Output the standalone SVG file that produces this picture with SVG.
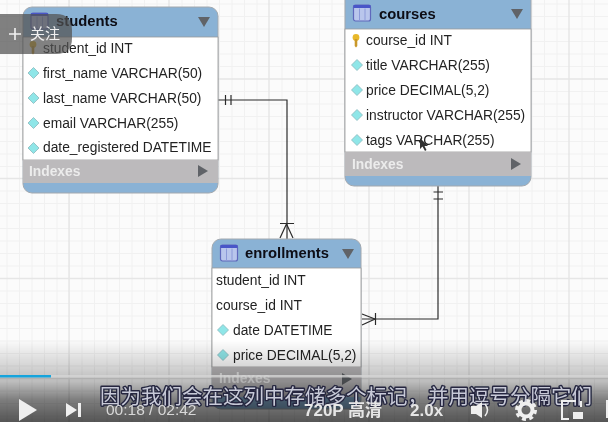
<svg xmlns="http://www.w3.org/2000/svg" width="608" height="422" viewBox="0 0 608 422">
<style>
.minor{stroke:#f1f1f1;stroke-width:1;fill:none}
.major{stroke:#e6e6e6;stroke-width:1.4;fill:none}
.card{fill:#8ab2d5;stroke:#a2a8ae;stroke-width:1}
.body{fill:#fff;stroke:#9a9a9a;stroke-width:.8}
.idx{fill:#bcbabc}
.title{font:bold 14.8px "Liberation Sans",Arial,sans-serif;fill:#0c0c14}
.row{font:13.8px "Liberation Sans",Arial,sans-serif;fill:#242424}
.ixt{font:bold 13.8px "Liberation Sans",Arial,sans-serif;fill:#ececec}
.tri{fill:#606468}
.con{stroke:#2c2c2c;stroke-width:1.2;fill:none}
.sub{font:20.5px "Noto Sans CJK SC",sans-serif;fill:#c8cad8;stroke:#262840;stroke-width:2.8;paint-order:stroke;stroke-linejoin:round}
.ctl{font:bold 17px "Liberation Sans",Arial,sans-serif;fill:#e6e6e6}
.ctlc{font:bold 17px "Liberation Sans","Noto Sans CJK SC",sans-serif;fill:#e6e6e6}
.ico{fill:#efefef}
</style>
<defs>
<filter id="soft" x="-2%" y="-2%" width="104%" height="104%"><feGaussianBlur stdDeviation="0.4"/></filter>
<linearGradient id="shade" x1="0" y1="0" x2="0" y2="1">
<stop offset="0" stop-color="#000" stop-opacity="0"/>
<stop offset="0.51" stop-color="#000" stop-opacity="0.25"/>
<stop offset="0.73" stop-color="#000" stop-opacity="0.5"/>
<stop offset="1" stop-color="#000" stop-opacity="0.66"/>
</linearGradient>
<g id="dia"><path d="M0-5.500 5.500 0 0 5.500-5.500 0Z" fill="#8fe6e8" stroke="#8ab8bc" stroke-width=".8"/></g>
<g id="key"><circle cx="0" cy="-2.500" r="3.400" fill="#e8b82c"/><path d="M-1.300-1h2.600v7l-1.300 1.500-1.300-1.500Z" fill="#c9982a"/></g>
<g id="tbl"><rect x="0" y="0" width="17" height="16" rx="2" fill="#b9c6ec" stroke="#5f68bc" stroke-width="1.200"/><rect x="0" y="0" width="17" height="3" fill="#4a56c8"/><path d="M6 3.500v12M11.500 3.500v12" stroke="#8c9ad8" stroke-width="1"/></g>
</defs>
<rect width="608" height="422" fill="#fbfbfb"/>
<g filter="url(#soft)">
<g id="grid">
<path class="minor" d="M7 0V422M19.500 0V422M32 0V422M44.500 0V422M57 0V422M69.500 0V422M82 0V422M94.500 0V422M107 0V422M119.500 0V422M132 0V422M144.500 0V422M157 0V422M182 0V422M194.500 0V422M207 0V422M219.500 0V422M232 0V422M244.500 0V422M257 0V422M282 0V422M294.500 0V422M307 0V422M319.500 0V422M332 0V422M344.500 0V422M357 0V422M382 0V422M394.500 0V422M407 0V422M419.500 0V422M432 0V422M444.500 0V422M457 0V422M482 0V422M494.500 0V422M507 0V422M519.500 0V422M532 0V422M544.500 0V422M557 0V422M582 0V422M594.500 0V422"/>
<path class="minor" d="M0 4H608M0 16.500H608M0 29H608M0 41.500H608M0 54H608M0 66.500H608M0 91.500H608M0 104H608M0 116.500H608M0 129H608M0 141.500H608M0 154H608M0 166.500H608M0 191H608M0 203.500H608M0 216H608M0 228.500H608M0 241H608M0 253.500H608M0 266H608M0 291H608M0 303.500H608M0 316H608M0 328.500H608M0 341H608M0 353.500H608M0 366H608M0 391H608M0 403.500H608M0 416H608"/>
<path class="major" d="M69 0V422M169 0V422M269 0V422M369 0V422M469 0V422M569 0V422M0 79H608M0 178.500H608M0 278.500H608M0 378.500H608"/>
</g>
<g id="connectors">
<path class="con" d="M218 100H287V239"/>
<path class="con" d="M225.500 95V105M231 95V105"/>
<path class="con" d="M280 223.500H294M280 238 286.500 224 293 238"/>
<path class="con" d="M438 186V319H362"/>
<path class="con" d="M433.500 192H443M433.500 199H443"/>
<path class="con" d="M375.500 313V325M362 314 375 319 362 325"/>
</g>
<g id="students">
<rect class="card" x="23" y="7" width="195" height="186" rx="9"/>
<rect class="body" x="23" y="37" width="195" height="123"/>
<rect class="idx" x="23" y="160" width="195" height="23"/>
<use href="#tbl" x="31" y="13"/>
<text class="title" x="56" y="26">students</text>
<path class="tri" d="M198 17H210L204 27Z"/>
<use href="#key" x="33" y="47"/>
<text class="row" x="43" y="52.500">student_id INT</text>
<use href="#dia" x="33.500" y="73"/><text class="row" x="43" y="77.500">first_name VARCHAR(50)</text>
<use href="#dia" x="33.500" y="98"/><text class="row" x="43" y="102.500">last_name VARCHAR(50)</text>
<use href="#dia" x="33.500" y="123"/><text class="row" x="43" y="127.500">email VARCHAR(255)</text>
<use href="#dia" x="33.500" y="148"/><text class="row" x="43" y="152">date_registered DATETIME</text>
<text class="ixt" x="29" y="175.500">Indexes</text>
<path class="tri" d="M198 165 208 171 198 177Z"/>
</g>
<g id="courses">
<rect class="card" x="345" y="-9" width="186" height="195" rx="9"/>
<rect class="body" x="345" y="29" width="186" height="123"/>
<rect class="idx" x="345" y="152" width="186" height="24"/>
<use href="#tbl" x="353.500" y="5"/>
<text class="title" x="379" y="18.500">courses</text>
<path class="tri" d="M511 9H523L517 19Z"/>
<use href="#key" x="356" y="40"/>
<text class="row" x="366" y="45">course_id INT</text>
<use href="#dia" x="357" y="65"/><text class="row" x="366" y="70">title VARCHAR(255)</text>
<use href="#dia" x="357" y="90"/><text class="row" x="366" y="95">price DECIMAL(5,2)</text>
<use href="#dia" x="357" y="115"/><text class="row" x="366" y="120">instructor VARCHAR(255)</text>
<use href="#dia" x="357" y="140"/><text class="row" x="366" y="145">tags VARCHAR(255)</text>
<text class="ixt" x="352" y="168.500">Indexes</text>
<path class="tri" d="M511 158 521 164 511 170Z"/>
<path d="M420 138V149L422.500 146.500 425 151 426.500 150 424.500 146H428Z" fill="#333"/>
</g>
<g id="enrollments">
<rect class="card" x="212" y="239" width="149" height="170" rx="9"/>
<rect class="body" x="212" y="268" width="149" height="99"/>
<rect class="idx" x="212" y="367" width="149" height="30"/>
<use href="#tbl" x="220.500" y="245"/>
<text class="title" x="245" y="258">enrollments</text>
<path class="tri" d="M342 249H354L348 259Z"/>
<text class="row" x="216" y="285">student_id INT</text>
<text class="row" x="216" y="310">course_id INT</text>
<use href="#dia" x="223" y="330"/><text class="row" x="233" y="335">date DATETIME</text>
<use href="#dia" x="223" y="355"/><text class="row" x="233" y="360">price DECIMAL(5,2)</text>
<text class="ixt" x="219" y="382.500">Indexes</text>
<path class="tri" d="M342 373 352 379 342 385Z"/>
</g>
</g>
<g id="player" filter="url(#soft)">
<rect x="0" y="340" width="608" height="82" fill="url(#shade)"/>
<path d="M0 14H56Q72 14 72 30V38Q72 54 56 54H0Z" fill="#505050" fill-opacity=".72"/>
<path d="M9 34H21M15 28V40" stroke="#f2f2f2" stroke-width="1.600"/>
<text x="30" y="39" style="font:15px 'Noto Sans CJK SC',sans-serif;fill:#f0f0f0">关注</text>
<rect x="0" y="375" width="608" height="2.500" fill="#d4d4d4" fill-opacity=".8"/>
<rect x="0" y="375" width="51" height="2.500" fill="#12a4dc"/>
<text class="sub" x="100" y="404" textLength="492">因为我们会在这列中存储多个标记，并用逗号分隔它们</text>
<path class="ico" d="M19 399 37 410 19 421Z"/>
<path class="ico" d="M66 403 77 410 66 417ZM78 403H81V417H78Z"/>
<text x="106" y="415" style="font:15.500px 'Liberation Sans',Arial,sans-serif;fill:#d8d8d8">00:18 / 02:42</text>
<text class="ctlc" x="304" y="416">720P 高清</text>
<text class="ctl" x="410" y="416">2.0x</text>
<path class="ico" d="M471 406H476L482 402V418L476 414H471Z"/>
<path d="M485 404Q490 410 485 416" stroke="#efefef" stroke-width="1.500" fill="none"/>
<circle cx="526" cy="410" r="6.500" fill="none" stroke="#efefef" stroke-width="4"/>
<circle cx="526" cy="410" r="9.500" fill="none" stroke="#efefef" stroke-width="3" stroke-dasharray="4 3.450"/>
<path d="M576 401H562V419H569M581 401V407" stroke="#efefef" stroke-width="2" fill="none"/>
<rect x="573" y="412" width="10" height="7" fill="#efefef"/>
<rect x="606" y="400" width="2" height="18" fill="#efefef"/>
</g>
</svg>
